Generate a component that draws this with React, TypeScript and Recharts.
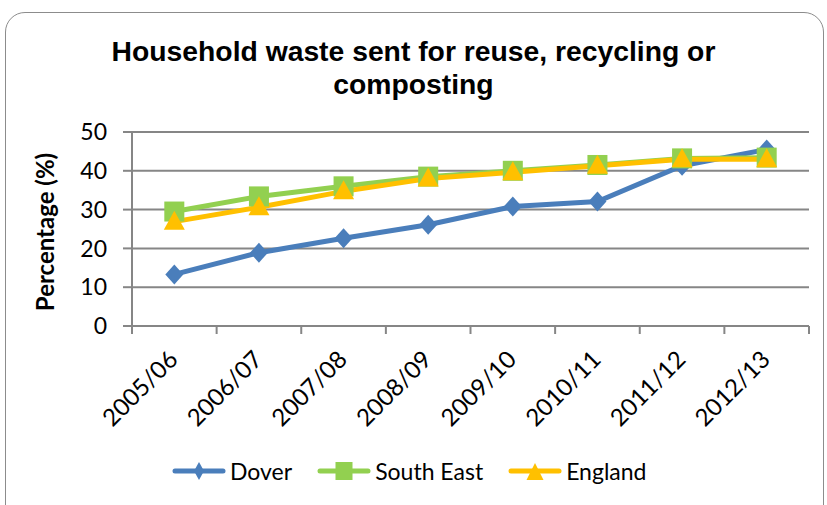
import { LineChart, Line, XAxis, YAxis, CartesianGrid } from 'recharts'

const years = ['2005/06', '2006/07', '2007/08', '2008/09', '2009/10', '2010/11', '2011/12', '2012/13']
const dover = [13.3, 18.9, 22.6, 26.1, 30.8, 32.1, 41.3, 45.5]
const southEast = [29.5, 33.4, 36.0, 38.5, 40.0, 41.5, 43.2, 43.4]
const england = [26.9, 30.6, 34.7, 38.0, 39.6, 41.3, 43.0, 43.0]
const yTicks = [0, 10, 20, 30, 40, 50]

const seriesNames = ['Dover', 'South East', 'England']
const COLORS = ['#4A7EBB', '#92D050', '#FFC000']

const data = years.map((year, i) => ({
    year,
    Dover: dover[i],
    'South East': southEast[i],
    England: england[i],
}))

const W = 827
const H = 505
const PLOT_LEFT = 132
const PLOT_RIGHT = 809
const PLOT_TOP = 132
const PLOT_BOTTOM = 326
const BAND = (PLOT_RIGHT - PLOT_LEFT) / years.length
const AXIS = '#868686'
const FONT = 'Lato, "Open Sans", sans-serif'

const Marker = ({ kind, cx, cy, color }: { kind: number; cx: number; cy: number; color: string }) => {
    if (kind === 0) {
        return <polygon points={`${cx},${cy - 10} ${cx + 9},${cy} ${cx},${cy + 10} ${cx - 9},${cy}`} fill={color} />
    }
    if (kind === 1) {
        return <rect x={cx - 10} y={cy - 10} width={20} height={20} fill={color} />
    }
    return <polygon points={`${cx},${cy - 11} ${cx + 10.5},${cy + 8} ${cx - 10.5},${cy + 8}`} fill={color} />
}

const makeDot = (kind: number) => (props: any) => {
    const { cx, cy, index } = props
    return (
        <g key={`dot-${kind}-${index}`}>
            <Marker kind={kind} cx={cx} cy={cy} color={COLORS[kind]} />
        </g>
    )
}

const XTick = (props: any) => {
    const { x, payload, index } = props
    const left = x - BAND / 2
    const tx = x + 5
    const ty = PLOT_BOTTOM + 35
    return (
        <g>
            <line x1={left} y1={PLOT_BOTTOM} x2={left} y2={PLOT_BOTTOM + 8} stroke={AXIS} strokeWidth={2} />
            {index === years.length - 1 && (
                <line x1={x + BAND / 2} y1={PLOT_BOTTOM} x2={x + BAND / 2} y2={PLOT_BOTTOM + 8} stroke={AXIS} strokeWidth={2} />
            )}
            <text
                x={tx}
                y={ty}
                textAnchor="end"
                transform={`rotate(-45 ${tx} ${ty})`}
                fontSize={24}
                fontFamily={FONT}
                fill="#000"
            >
                {payload.value}
            </text>
        </g>
    )
}

const LegendItem = ({ i }: { i: number }) => (
    <div style={{ display: 'flex', alignItems: 'center' }}>
        <svg width={54} height={22}>
            <line x1={3} y1={11} x2={51} y2={11} stroke={COLORS[i]} strokeWidth={5} strokeLinecap="round" />
            {i === 0 && <polygon points="27,2 32,11 27,20 22,11" fill={COLORS[i]} />}
            {i === 1 && <rect x={18.5} y={2} width={17} height={18} fill={COLORS[i]} />}
            {i === 2 && <polygon points="27,3 35.5,20 18.5,20" fill={COLORS[i]} />}
        </svg>
        <span style={{ fontSize: 23, fontFamily: FONT, marginLeft: 4, color: '#000' }}>{seriesNames[i]}</span>
    </div>
)

export default function App() {
    return (
        <div style={{ position: 'absolute', left: 0, top: 0, width: W, height: H, overflow: 'hidden', background: '#fff' }}>
            <div
                style={{
                    position: 'absolute',
                    left: 5,
                    top: 12,
                    width: 817,
                    height: 520,
                    border: '1.5px solid #8c8c8c',
                    borderRadius: 20,
                }}
            />
            <div
                style={{
                    position: 'absolute',
                    left: 0,
                    top: 35,
                    width: 827,
                    textAlign: 'center',
                    fontFamily: '"Liberation Sans", Arial, sans-serif',
                    fontWeight: 'bold',
                    fontSize: 28.3,
                    lineHeight: '33px',
                }}
            >
                Household waste sent for reuse, recycling or
                <br />
                composting
            </div>
            <div
                style={{
                    position: 'absolute',
                    left: 45,
                    top: 232,
                    transform: 'translate(-50%, -50%) rotate(-90deg)',
                    whiteSpace: 'nowrap',
                    fontFamily: FONT,
                    fontWeight: 'bold',
                    fontSize: 24,
                    lineHeight: '24px',
                }}
            >
                Percentage (%)
            </div>
            <div style={{ position: 'absolute', left: 0, top: 0 }}>
                <LineChart
                    width={W}
                    height={H}
                    data={data}
                    margin={{ top: PLOT_TOP, right: W - PLOT_RIGHT, left: 0, bottom: 0 }}
                >
                    <CartesianGrid vertical={false} stroke={AXIS} strokeWidth={2} />
                    <XAxis
                        dataKey="year"
                        scale="band"
                        height={H - PLOT_BOTTOM}
                        tickLine={false}
                        axisLine={{ stroke: AXIS, strokeWidth: 2 }}
                        tick={<XTick />}
                        interval={0}
                    />
                    <YAxis
                        width={PLOT_LEFT}
                        domain={[0, 50]}
                        ticks={yTicks}
                        interval={0}
                        tickSize={9}
                        tickMargin={16}
                        tickLine={{ stroke: AXIS, strokeWidth: 2 }}
                        axisLine={{ stroke: AXIS, strokeWidth: 2 }}
                        tick={{ fontSize: 23, fontFamily: FONT, fill: '#000' }}
                    />
                    {seriesNames.map((name, i) => (
                        <Line
                            key={name}
                            dataKey={name}
                            stroke={COLORS[i]}
                            strokeWidth={5}
                            dot={makeDot(i)}
                            activeDot={false}
                            isAnimationActive={false}
                        />
                    ))}
                </LineChart>
            </div>
            <div
                style={{
                    position: 'absolute',
                    left: 172,
                    top: 457,
                    display: 'flex',
                    gap: 25,
                }}
            >
                {seriesNames.map((n, i) => (
                    <LegendItem key={n} i={i} />
                ))}
            </div>
        </div>
    )
}
